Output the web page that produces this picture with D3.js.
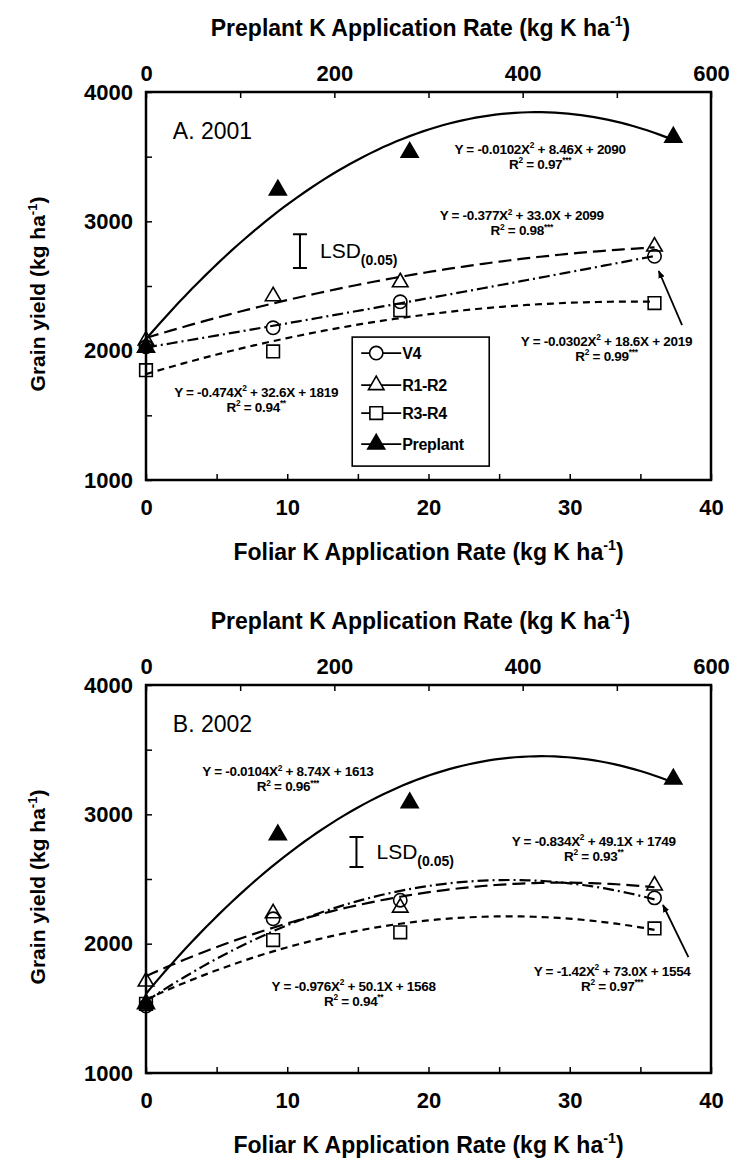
<!DOCTYPE html>
<html>
<head>
<meta charset="utf-8">
<script src="https://cdnjs.cloudflare.com/ajax/libs/d3/7.8.5/d3.min.js"></script>
<style>
body { margin: 0; background: #fff; }
svg text { font-family: "Liberation Sans", Arial, Helvetica, sans-serif; fill: #000; }
</style>
</head>
<body>
<svg id="chart" width="735" height="1159"></svg>
<script>
// application rates (kg K/ha)
var foliarRates = [0, 9, 18, 36];
var preplantRates = [0, 140, 280, 560];

// grain yield (kg/ha), 2001
var v4_2001  = [2030, 2177, 2378, 2730];
var r12_2001 = [2078, 2421, 2529, 2805];
var r34_2001 = [1849, 1994, 2312, 2368];
var pre_2001 = [2027, 3242, 3533, 3650];

// grain yield (kg/ha), 2002
var v4_2002  = [1518, 2192, 2336, 2354];
var r12_2002 = [1707, 2235, 2279, 2450];
var r34_2002 = [1535, 2028, 2088, 2118];
var pre_2002 = [1535, 2841, 3089, 3272];

// axis ticks
var yieldTicks = [1000, 1500, 2000, 2500, 3000, 3500, 4000];
var foliarTicks = [0, 5, 10, 15, 20, 25, 30, 35, 40];
var preplantTicks = [0, 100, 200, 300, 400, 500, 600];

// regression equations as printed
var eq2001 = [
    'Y = -0.0102X^{2} + 8.46X + 2090', 'R^{2} = 0.97^{***}',
    'Y = -0.377X^{2} + 33.0X + 2099', 'R^{2} = 0.98^{***}',
    'Y = -0.0302X^{2} + 18.6X + 2019', 'R^{2} = 0.99^{***}',
    'Y = -0.474X^{2} + 32.6X + 1819', 'R^{2} = 0.94^{**}'
];
var eq2002 = [
    'Y = -0.0104X^{2} + 8.74X + 1613', 'R^{2} = 0.96^{***}',
    'Y = -0.834X^{2} + 49.1X + 1749', 'R^{2} = 0.93^{**}',
    'Y = -1.42X^{2} + 73.0X + 1554', 'R^{2} = 0.97^{***}',
    'Y = -0.976X^{2} + 50.1X + 1568', 'R^{2} = 0.94^{**}'
];
// where each equation sits, in [foliar rate, yield]
var eqPos2001 = [[27.9, 3560], [26.6, 3045], [32.6, 2075], [7.8, 1680]];
var eqPos2002 = [[10.05, 3330], [31.7, 2795], [33.0, 1790], [14.7, 1672]];

// LSD bars: [foliar rate, centre yield, half length]
var lsd2001 = [10.9, 2770, 131];
var lsd2002 = [14.9, 2708, 116];

// arrows: [from x, from y, to x, to y]
var arrow2001 = [37.95, 2198, 36.3, 2616];
var arrow2002 = [38.4, 1896, 36.6, 2299];

var seriesNames = ['V4', 'R1-R2', 'R3-R4', 'Preplant'];

var svg = d3.select('#chart'),
    plotLeft = 146,
    plotRight = 711,
    plotH = 388,
    fol = d3.scaleLinear().domain([0, 40]).range([plotLeft, plotRight]),
    pre = d3.scaleLinear().domain([0, 600]).range([plotLeft, plotRight]);

var styles = {
    'V4':       {dash: '11,4,2,4', sym: d3.symbolCircle, size: 140, fill: 'none'},
    'R1-R2':    {dash: '13,6', sym: d3.symbolTriangle, size: 105, fill: 'none'},
    'R3-R4':    {dash: '7,5', sym: d3.symbolSquare, size: 160, fill: 'none'},
    'Preplant': {dash: null, sym: d3.symbolTriangle, size: 125, fill: '#000'}
};

svg.append('defs').append('marker')
    .attr('id', 'head')
    .attr('viewBox', '0 0 10 10')
    .attr('refX', 9).attr('refY', 5)
    .attr('markerWidth', 8).attr('markerHeight', 8)
    .attr('markerUnits', 'userSpaceOnUse')
    .attr('orient', 'auto')
  .append('path')
    .attr('d', 'M0,1 L10,5 L0,9 Z')
    .attr('fill', '#000');

// quadratic least squares fit -> [a, b, c] for a*x^2 + b*x + c
function quadFit(xs, ys) {
    var s = [0, 0, 0, 0, 0], t = [0, 0, 0];
    xs.forEach(function (x, i) {
        for (var k = 0; k < 5; k++) s[k] += Math.pow(x, k);
        for (k = 0; k < 3; k++) t[k] += Math.pow(x, k) * ys[i];
    });
    var m = [[s[4], s[3], s[2], t[2]], [s[3], s[2], s[1], t[1]], [s[2], s[1], s[0], t[0]]];
    for (var c = 0; c < 3; c++) {
        for (var r = c + 1; r < 3; r++) {
            var f = m[r][c] / m[c][c];
            for (var j = c; j < 4; j++) m[r][j] -= f * m[c][j];
        }
    }
    var out = [0, 0, 0];
    for (r = 2; r >= 0; r--) {
        var v = m[r][3];
        for (j = r + 1; j < 3; j++) v -= m[r][j] * out[j];
        out[r] = v / m[r][r];
    }
    return out;
}

// text with ^{...} superscripts
function rich(sel, str, size) {
    var parts = str.split(/(\^\{[^}]*\})/), up = false;
    parts.forEach(function (p) {
        if (!p) return;
        var t = sel.append('tspan');
        if (p[0] === '^') {
            t.text(p.slice(2, -1)).attr('font-size', size * 0.62).attr('dy', -size * 0.42);
            up = true;
        } else {
            t.text(p);
            if (up) t.attr('dy', size * 0.42);
            up = false;
        }
    });
}

function label(g, x, y, str, size, weight, anchor) {
    var t = g.append('text')
        .attr('x', x)
        .attr('y', y + size * 0.35)
        .attr('font-size', size)
        .attr('font-weight', weight || 'bold')
        .attr('text-anchor', anchor || 'middle');
    rich(t, str, size);
    return t;
}

function drawPanel(top, data, tag, eqs, eqPos, lsd, arrow, withLegend) {
    var g = svg.append('g'),
        y = d3.scaleLinear().domain([1000, 4000]).range([top + plotH, top]),
        line = d3.line().x(function (d) { return d[0]; }).y(function (d) { return d[1]; });

    // axes, ticks inward
    g.append('g').attr('transform', 'translate(' + plotLeft + ',0)')
        .call(d3.axisLeft(y).tickValues(yieldTicks).tickSizeInner(-6).tickSizeOuter(0).tickPadding(13)
            .tickFormat(function (d) { return d % 1000 === 0 ? d : ''; }));
    g.append('g').attr('transform', 'translate(0,' + (top + plotH) + ')')
        .call(d3.axisBottom(fol).tickValues(foliarTicks).tickSizeInner(-6).tickSizeOuter(0).tickPadding(19)
            .tickFormat(function (d) { return d % 10 === 0 ? d : ''; }));
    g.append('g').attr('transform', 'translate(0,' + top + ')')
        .call(d3.axisTop(pre).tickValues(preplantTicks).tickSizeInner(-6).tickSizeOuter(0).tickPadding(11)
            .tickFormat(function (d) { return d % 200 === 0 ? d : ''; }));
    g.selectAll('.domain').remove();
    g.selectAll('.tick line').attr('stroke', '#000').attr('stroke-width', 1.5);
    g.selectAll('.tick text').attr('font-size', 22).attr('font-weight', 'bold')
        .attr('font-family', '"Liberation Sans", Arial, sans-serif').attr('fill', '#000');

    g.append('rect')
        .attr('x', plotLeft).attr('y', top)
        .attr('width', plotRight - plotLeft).attr('height', plotH)
        .attr('fill', 'none').attr('stroke', '#000').attr('stroke-width', 2.5);

    // axis titles
    label(g, (plotLeft + plotRight) / 2 - 8, top - 64, 'Preplant K Application Rate (kg K ha^{-1})', 23);
    label(g, (plotLeft + plotRight) / 2, top + plotH + 72, 'Foliar K Application Rate (kg K ha^{-1})', 23);
    label(g, 0, 0, 'Grain yield (kg ha^{-1})', 21)
        .attr('transform', 'translate(38,' + (top + plotH / 2 + 8) + ') rotate(-90)');

    label(g, fol(1.9), y(3698), tag, 23, 'normal', 'start');

    // fitted curves then points
    seriesNames.forEach(function (name, si) {
        var isPre = name === 'Preplant',
            xs = isPre ? preplantRates : foliarRates,
            sx = isPre ? pre : fol,
            c = quadFit(xs, data[si]),
            pts = d3.range(0, xs[xs.length - 1] + 0.001, xs[xs.length - 1] / 80).map(function (x) {
                return [sx(x), y(c[0] * x * x + c[1] * x + c[2])];
            });
        g.append('path')
            .attr('d', line(pts))
            .attr('fill', 'none').attr('stroke', '#000').attr('stroke-width', 2.2)
            .attr('stroke-dasharray', styles[name].dash);
    });
    [2, 0, 1, 3].forEach(function (si) {
        var name = seriesNames[si],
            st = styles[name],
            isPre = name === 'Preplant',
            xs = isPre ? preplantRates : foliarRates,
            sx = isPre ? pre : fol;
        g.selectAll(null).data(data[si]).enter().append('path')
            .attr('d', d3.symbol(st.sym, st.size))
            .attr('transform', function (d, i) { return 'translate(' + sx(xs[i]) + ',' + y(d) + ')'; })
            .attr('fill', st.fill).attr('stroke', '#000').attr('stroke-width', 1.6);
    });

    // equations
    eqPos.forEach(function (p, i) {
        label(g, fol(p[0]), y(p[1]), eqs[i * 2], 13.5).attr('letter-spacing', -0.3);
        label(g, fol(p[0]), y(p[1]) + 15, eqs[i * 2 + 1], 13.5).attr('letter-spacing', -0.3);
    });

    // LSD bar
    var lx = fol(lsd[0]), ly0 = y(lsd[1] - lsd[2]), ly1 = y(lsd[1] + lsd[2]);
    g.append('path')
        .attr('d', 'M' + (lx - 7) + ',' + ly0 + 'H' + (lx + 7) + 'M' + lx + ',' + ly0 + 'V' + ly1 +
            'M' + (lx - 7) + ',' + ly1 + 'H' + (lx + 7))
        .attr('stroke', '#000').attr('stroke-width', 2).attr('fill', 'none');
    var lt = g.append('text')
        .attr('x', lx + 20).attr('y', y(lsd[1]) + 7)
        .attr('font-size', 21);
    lt.append('tspan').text('LSD');
    lt.append('tspan').text('(0.05)').attr('font-size', 14).attr('font-weight', 'bold').attr('dy', 7);

    // arrow to the V4 point
    g.append('line')
        .attr('x1', fol(arrow[0])).attr('y1', y(arrow[1]))
        .attr('x2', fol(arrow[2])).attr('y2', y(arrow[3]))
        .attr('stroke', '#000').attr('stroke-width', 1.8)
        .attr('marker-end', 'url(#head)');

    if (withLegend) {
        var lg = g.append('g').attr('transform', 'translate(' + fol(14.6) + ',' + y(2105) + ')');
        lg.append('rect').attr('width', 137).attr('height', 129)
            .attr('fill', '#fff').attr('stroke', '#000').attr('stroke-width', 1.6);
        seriesNames.forEach(function (name, i) {
            var st = styles[name], ey = [16, 48, 76, 107][i];
            lg.append('line').attr('x1', 9).attr('x2', 49).attr('y1', ey).attr('y2', ey)
                .attr('stroke', '#000').attr('stroke-width', 1.8)
                .attr('stroke-dasharray', name === 'R3-R4' ? '14,6,20' : null);
            lg.append('path').attr('d', d3.symbol(st.sym, st.size))
                .attr('transform', 'translate(24,' + ey + ')')
                .attr('fill', st.fill === 'none' ? '#fff' : st.fill)
                .attr('stroke', '#000').attr('stroke-width', 1.6);
            label(lg, 50, ey, name, 16, 'bold', 'start').attr('letter-spacing', -0.3);
        });
    }
}

drawPanel(92, [v4_2001, r12_2001, r34_2001, pre_2001], 'A.  2001', eq2001, eqPos2001, lsd2001, arrow2001, true);
drawPanel(685, [v4_2002, r12_2002, r34_2002, pre_2002], 'B.  2002', eq2002, eqPos2002, lsd2002, arrow2002, false);
</script>
</body>
</html>
